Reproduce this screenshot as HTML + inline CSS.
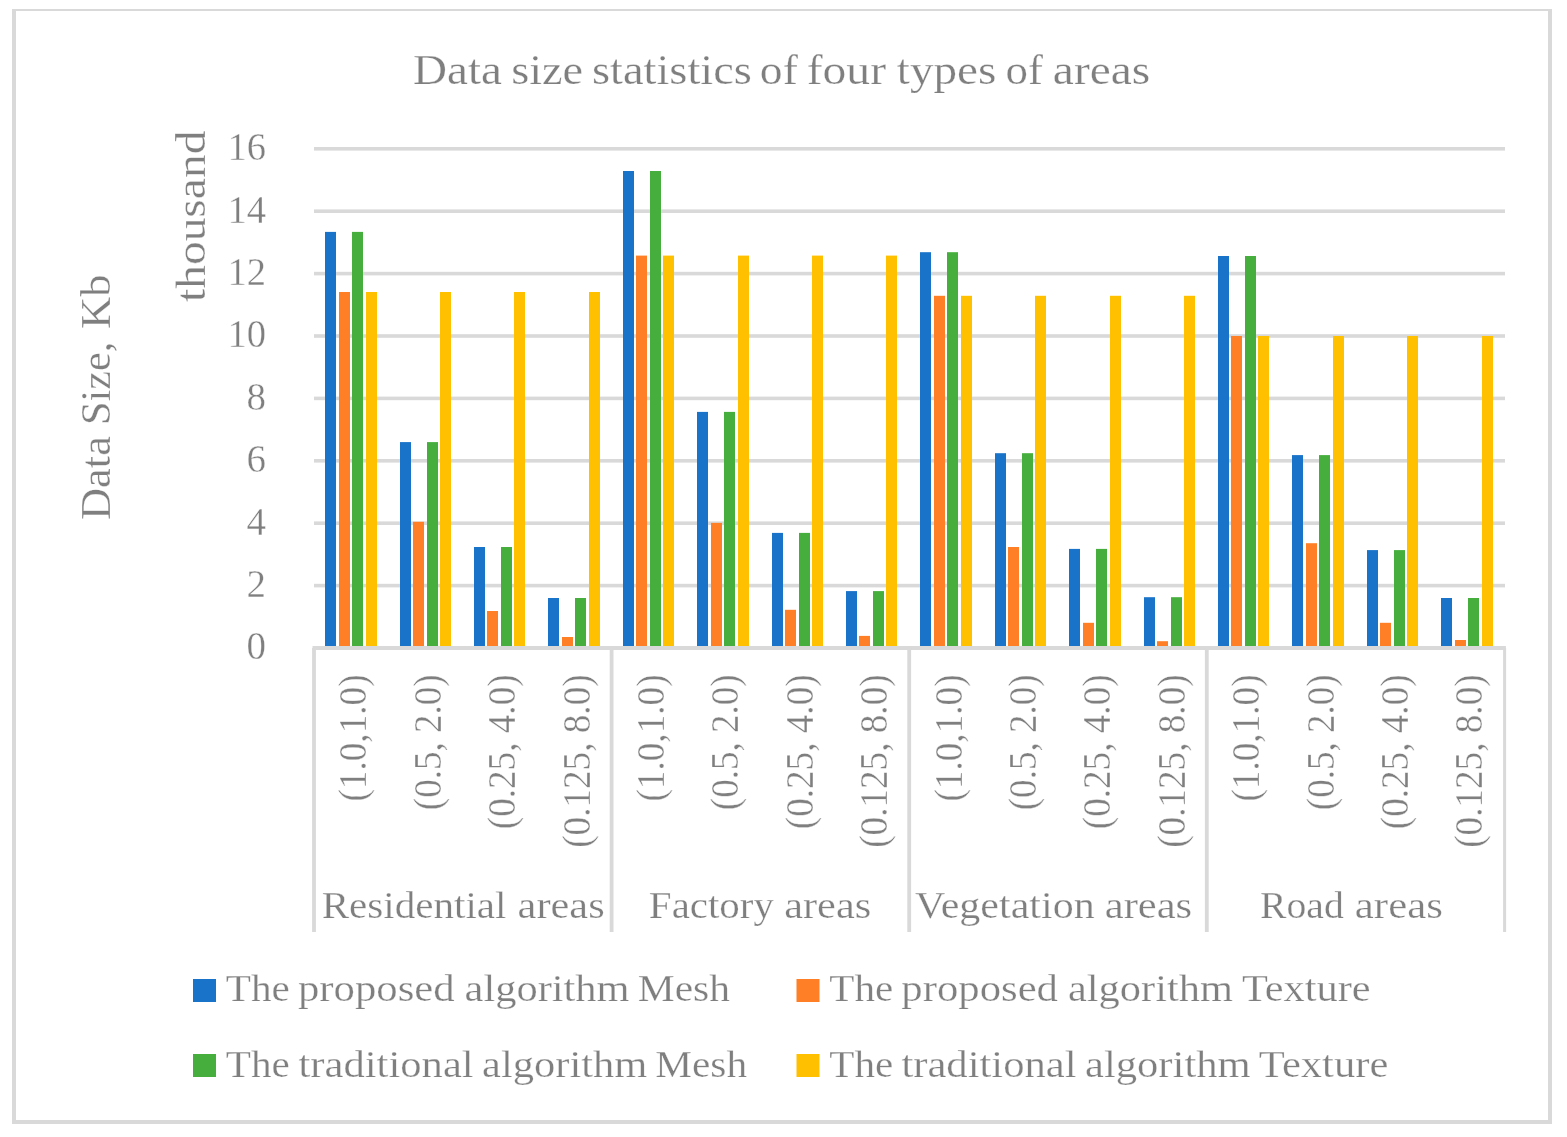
<!DOCTYPE html>
<html lang="en"><head><meta charset="utf-8"><title>Data size statistics of four types of areas</title>
<style>html,body{margin:0;padding:0;background:#fff;}body{width:1567px;height:1137px;overflow:hidden;}svg{display:block;}text{font-family:"Liberation Serif",serif;fill:#7f7f7f;}.thin{stroke:#fff;stroke-width:0.35px;paint-order:fill stroke;}.t2{stroke:#fff;stroke-width:0.25px;paint-order:fill stroke;}</style></head><body>
<svg width="1567" height="1137" viewBox="0 0 1567 1137">
<rect x="0" y="0" width="1567" height="1137" fill="#fff"/>
<g fill="#d9d9d9">
<rect x="12" y="9" width="1540" height="2"/>
<rect x="12" y="9" width="4" height="1115"/>
<rect x="1548" y="9" width="4" height="1115"/>
<rect x="12" y="1120" width="1540" height="4"/>
</g>
<g fill="#d9d9d9">
<rect x="314.0" y="583.80" width="1191.0" height="3.6"/>
<rect x="314.0" y="521.40" width="1191.0" height="3.6"/>
<rect x="314.0" y="459.00" width="1191.0" height="3.6"/>
<rect x="314.0" y="396.60" width="1191.0" height="3.6"/>
<rect x="314.0" y="334.20" width="1191.0" height="3.6"/>
<rect x="314.0" y="271.80" width="1191.0" height="3.6"/>
<rect x="314.0" y="209.40" width="1191.0" height="3.6"/>
<rect x="314.0" y="147.00" width="1191.0" height="3.6"/>
</g>
<rect x="325" y="231.9" width="11" height="416.1" fill="#1873C9"/>
<rect x="339" y="292.0" width="11" height="356.0" fill="#FF7F27"/>
<rect x="352" y="231.9" width="11" height="416.1" fill="#45AE3C"/>
<rect x="366" y="292.0" width="11" height="356.0" fill="#FFC000"/>
<rect x="400" y="442.1" width="11" height="205.9" fill="#1873C9"/>
<rect x="413" y="521.8" width="11" height="126.2" fill="#FF7F27"/>
<rect x="427" y="442.1" width="11" height="205.9" fill="#45AE3C"/>
<rect x="440" y="292.0" width="11" height="356.0" fill="#FFC000"/>
<rect x="474" y="547.0" width="11" height="101.0" fill="#1873C9"/>
<rect x="487" y="611.0" width="11" height="37.0" fill="#FF7F27"/>
<rect x="501" y="547.0" width="11" height="101.0" fill="#45AE3C"/>
<rect x="514" y="292.0" width="11" height="356.0" fill="#FFC000"/>
<rect x="548" y="598.0" width="11" height="50.0" fill="#1873C9"/>
<rect x="562" y="637.0" width="11" height="11.0" fill="#FF7F27"/>
<rect x="575" y="598.0" width="11" height="50.0" fill="#45AE3C"/>
<rect x="589" y="292.0" width="11" height="356.0" fill="#FFC000"/>
<rect x="623" y="171.0" width="11" height="477.0" fill="#1873C9"/>
<rect x="636" y="255.6" width="11" height="392.4" fill="#FF7F27"/>
<rect x="650" y="171.0" width="11" height="477.0" fill="#45AE3C"/>
<rect x="663" y="255.6" width="11" height="392.4" fill="#FFC000"/>
<rect x="697" y="411.9" width="11" height="236.1" fill="#1873C9"/>
<rect x="711" y="522.9" width="11" height="125.1" fill="#FF7F27"/>
<rect x="724" y="411.9" width="11" height="236.1" fill="#45AE3C"/>
<rect x="738" y="255.6" width="11" height="392.4" fill="#FFC000"/>
<rect x="772" y="532.9" width="11" height="115.1" fill="#1873C9"/>
<rect x="785" y="609.8" width="11" height="38.2" fill="#FF7F27"/>
<rect x="799" y="532.9" width="11" height="115.1" fill="#45AE3C"/>
<rect x="812" y="255.6" width="11" height="392.4" fill="#FFC000"/>
<rect x="846" y="591.1" width="11" height="56.9" fill="#1873C9"/>
<rect x="859" y="635.9" width="11" height="12.1" fill="#FF7F27"/>
<rect x="873" y="591.1" width="11" height="56.9" fill="#45AE3C"/>
<rect x="886" y="255.6" width="11" height="392.4" fill="#FFC000"/>
<rect x="920" y="252.2" width="11" height="395.8" fill="#1873C9"/>
<rect x="934" y="295.8" width="11" height="352.2" fill="#FF7F27"/>
<rect x="947" y="252.2" width="11" height="395.8" fill="#45AE3C"/>
<rect x="961" y="295.8" width="11" height="352.2" fill="#FFC000"/>
<rect x="995" y="453.2" width="11" height="194.8" fill="#1873C9"/>
<rect x="1008" y="547.0" width="11" height="101.0" fill="#FF7F27"/>
<rect x="1022" y="453.2" width="11" height="194.8" fill="#45AE3C"/>
<rect x="1035" y="295.8" width="11" height="352.2" fill="#FFC000"/>
<rect x="1069" y="548.9" width="11" height="99.1" fill="#1873C9"/>
<rect x="1083" y="622.8" width="11" height="25.2" fill="#FF7F27"/>
<rect x="1096" y="548.9" width="11" height="99.1" fill="#45AE3C"/>
<rect x="1110" y="295.8" width="11" height="352.2" fill="#FFC000"/>
<rect x="1144" y="597.2" width="11" height="50.8" fill="#1873C9"/>
<rect x="1157" y="641.2" width="11" height="6.8" fill="#FF7F27"/>
<rect x="1171" y="597.2" width="11" height="50.8" fill="#45AE3C"/>
<rect x="1184" y="295.8" width="11" height="352.2" fill="#FFC000"/>
<rect x="1218" y="256.0" width="11" height="392.0" fill="#1873C9"/>
<rect x="1231" y="336.0" width="11" height="312.0" fill="#FF7F27"/>
<rect x="1245" y="256.0" width="11" height="392.0" fill="#45AE3C"/>
<rect x="1258" y="336.0" width="11" height="312.0" fill="#FFC000"/>
<rect x="1292" y="455.1" width="11" height="192.9" fill="#1873C9"/>
<rect x="1306" y="543.2" width="11" height="104.8" fill="#FF7F27"/>
<rect x="1319" y="455.1" width="11" height="192.9" fill="#45AE3C"/>
<rect x="1333" y="336.0" width="11" height="312.0" fill="#FFC000"/>
<rect x="1367" y="550.1" width="11" height="97.9" fill="#1873C9"/>
<rect x="1380" y="622.8" width="11" height="25.2" fill="#FF7F27"/>
<rect x="1394" y="550.1" width="11" height="97.9" fill="#45AE3C"/>
<rect x="1407" y="336.0" width="11" height="312.0" fill="#FFC000"/>
<rect x="1441" y="598.0" width="11" height="50.0" fill="#1873C9"/>
<rect x="1455" y="640.0" width="11" height="8.0" fill="#FF7F27"/>
<rect x="1468" y="598.0" width="11" height="50.0" fill="#45AE3C"/>
<rect x="1482" y="336.0" width="11" height="312.0" fill="#FFC000"/>
<g fill="#d9d9d9">
<rect x="312.5" y="646" width="1193.4" height="4"/>
<rect x="312.1" y="648" width="3.8" height="284"/>
<rect x="609.7" y="648" width="3.8" height="284"/>
<rect x="907.3" y="648" width="3.8" height="284"/>
<rect x="1204.9" y="648" width="3.8" height="284"/>
<rect x="1503.1" y="648" width="3.0" height="284"/>
</g>
<text class="t2" y="84.0" font-size="43.00"><tspan x="413.09" textLength="88.83" lengthAdjust="spacingAndGlyphs">Data</tspan> <tspan x="511.17" textLength="71.89" lengthAdjust="spacingAndGlyphs">size</tspan> <tspan x="592.07" textLength="159.78" lengthAdjust="spacingAndGlyphs">statistics</tspan> <tspan x="759.88" textLength="37.98" lengthAdjust="spacingAndGlyphs">of</tspan> <tspan x="806.65" textLength="79.36" lengthAdjust="spacingAndGlyphs">four</tspan> <tspan x="896.87" textLength="99.47" lengthAdjust="spacingAndGlyphs">types</tspan> <tspan x="1005.55" textLength="37.45" lengthAdjust="spacingAndGlyphs">of</tspan> <tspan x="1052.86" textLength="97.32" lengthAdjust="spacingAndGlyphs">areas</tspan></text>
<text class="t2" y="918.4" font-size="38.00"><tspan x="321.70" textLength="184.76" lengthAdjust="spacingAndGlyphs">Residential</tspan> <tspan x="517.63" textLength="87.07" lengthAdjust="spacingAndGlyphs">areas</tspan></text>
<text class="t2" y="918.4" font-size="38.00"><tspan x="648.88" textLength="125.04" lengthAdjust="spacingAndGlyphs">Factory</tspan> <tspan x="784.18" textLength="87.06" lengthAdjust="spacingAndGlyphs">areas</tspan></text>
<text class="t2" y="918.4" font-size="38.00"><tspan x="914.99" textLength="179.72" lengthAdjust="spacingAndGlyphs">Vegetation</tspan> <tspan x="1104.85" textLength="87.31" lengthAdjust="spacingAndGlyphs">areas</tspan></text>
<text class="t2" y="918.4" font-size="38.00"><tspan x="1260.04" textLength="83.71" lengthAdjust="spacingAndGlyphs">Road</tspan> <tspan x="1354.86" textLength="87.98" lengthAdjust="spacingAndGlyphs">areas</tspan></text>
<text class="t2" y="1001.4" font-size="38.00"><tspan x="225.89" textLength="63.96" lengthAdjust="spacingAndGlyphs">The</tspan> <tspan x="298.03" textLength="156.57" lengthAdjust="spacingAndGlyphs">proposed</tspan> <tspan x="464.58" textLength="165.02" lengthAdjust="spacingAndGlyphs">algorithm</tspan> <tspan x="637.71" textLength="92.29" lengthAdjust="spacingAndGlyphs">Mesh</tspan></text>
<text class="t2" y="1001.4" font-size="38.00"><tspan x="829.30" textLength="63.95" lengthAdjust="spacingAndGlyphs">The</tspan> <tspan x="901.39" textLength="156.61" lengthAdjust="spacingAndGlyphs">proposed</tspan> <tspan x="1067.98" textLength="165.01" lengthAdjust="spacingAndGlyphs">algorithm</tspan> <tspan x="1241.91" textLength="128.71" lengthAdjust="spacingAndGlyphs">Texture</tspan></text>
<text class="t2" y="1076.5" font-size="38.00"><tspan x="225.89" textLength="63.96" lengthAdjust="spacingAndGlyphs">The</tspan> <tspan x="298.48" textLength="175.22" lengthAdjust="spacingAndGlyphs">traditional</tspan> <tspan x="482.10" textLength="165.20" lengthAdjust="spacingAndGlyphs">algorithm</tspan> <tspan x="655.27" textLength="91.84" lengthAdjust="spacingAndGlyphs">Mesh</tspan></text>
<text class="t2" y="1076.5" font-size="38.00"><tspan x="829.30" textLength="63.95" lengthAdjust="spacingAndGlyphs">The</tspan> <tspan x="901.40" textLength="175.23" lengthAdjust="spacingAndGlyphs">traditional</tspan> <tspan x="1084.99" textLength="165.71" lengthAdjust="spacingAndGlyphs">algorithm</tspan> <tspan x="1258.89" textLength="129.46" lengthAdjust="spacingAndGlyphs">Texture</tspan></text>
<text class="t2" y="110.3" font-size="43.00" transform="rotate(-90)"><tspan x="-520.03" textLength="83.86" lengthAdjust="spacingAndGlyphs">Data</tspan> <tspan x="-424.93" textLength="83.30" lengthAdjust="spacingAndGlyphs">Size,</tspan> <tspan x="-329.04" textLength="54.44" lengthAdjust="spacingAndGlyphs">Kb</tspan></text>
<text class="t2" y="204.8" font-size="43.00" transform="rotate(-90)"><tspan x="-302.02" textLength="171.41" lengthAdjust="spacingAndGlyphs">thousand</tspan></text>
<text class="thin" x="266.0" y="659.4" font-size="39.00" text-anchor="end">0</text>
<text class="thin" x="266.0" y="597.0" font-size="39.00" text-anchor="end">2</text>
<text class="thin" x="266.0" y="534.6" font-size="39.00" text-anchor="end">4</text>
<text class="thin" x="266.0" y="472.2" font-size="39.00" text-anchor="end">6</text>
<text class="thin" x="266.0" y="409.8" font-size="39.00" text-anchor="end">8</text>
<text class="thin" x="266.0" y="347.4" font-size="39.00" text-anchor="end" textLength="38.6" lengthAdjust="spacingAndGlyphs">10</text>
<text class="thin" x="266.0" y="285.0" font-size="39.00" text-anchor="end" textLength="38.6" lengthAdjust="spacingAndGlyphs">12</text>
<text class="thin" x="266.0" y="222.6" font-size="39.00" text-anchor="end" textLength="38.6" lengthAdjust="spacingAndGlyphs">14</text>
<text class="thin" x="266.0" y="160.2" font-size="39.00" text-anchor="end" textLength="38.6" lengthAdjust="spacingAndGlyphs">16</text>
<text class="thin" x="366.4" y="674.4" font-size="39.50" text-anchor="end" textLength="127.2" lengthAdjust="spacingAndGlyphs" transform="rotate(-90 366.4 674.4)">(1.0,1.0)</text>
<text class="thin" x="440.8" y="674.4" font-size="39.50" text-anchor="end" textLength="135.8" lengthAdjust="spacingAndGlyphs" transform="rotate(-90 440.8 674.4)">(0.5, 2.0)</text>
<text class="thin" x="515.2" y="674.4" font-size="39.50" text-anchor="end" textLength="154.8" lengthAdjust="spacingAndGlyphs" transform="rotate(-90 515.2 674.4)">(0.25, 4.0)</text>
<text class="thin" x="589.6" y="674.4" font-size="39.50" text-anchor="end" textLength="173.4" lengthAdjust="spacingAndGlyphs" transform="rotate(-90 589.6 674.4)">(0.125, 8.0)</text>
<text class="thin" x="664.0" y="674.4" font-size="39.50" text-anchor="end" textLength="127.2" lengthAdjust="spacingAndGlyphs" transform="rotate(-90 664.0 674.4)">(1.0,1.0)</text>
<text class="thin" x="738.4" y="674.4" font-size="39.50" text-anchor="end" textLength="135.8" lengthAdjust="spacingAndGlyphs" transform="rotate(-90 738.4 674.4)">(0.5, 2.0)</text>
<text class="thin" x="812.8" y="674.4" font-size="39.50" text-anchor="end" textLength="154.8" lengthAdjust="spacingAndGlyphs" transform="rotate(-90 812.8 674.4)">(0.25, 4.0)</text>
<text class="thin" x="887.2" y="674.4" font-size="39.50" text-anchor="end" textLength="173.4" lengthAdjust="spacingAndGlyphs" transform="rotate(-90 887.2 674.4)">(0.125, 8.0)</text>
<text class="thin" x="961.6" y="674.4" font-size="39.50" text-anchor="end" textLength="127.2" lengthAdjust="spacingAndGlyphs" transform="rotate(-90 961.6 674.4)">(1.0,1.0)</text>
<text class="thin" x="1036.0" y="674.4" font-size="39.50" text-anchor="end" textLength="135.8" lengthAdjust="spacingAndGlyphs" transform="rotate(-90 1036.0 674.4)">(0.5, 2.0)</text>
<text class="thin" x="1110.4" y="674.4" font-size="39.50" text-anchor="end" textLength="154.8" lengthAdjust="spacingAndGlyphs" transform="rotate(-90 1110.4 674.4)">(0.25, 4.0)</text>
<text class="thin" x="1184.8" y="674.4" font-size="39.50" text-anchor="end" textLength="173.4" lengthAdjust="spacingAndGlyphs" transform="rotate(-90 1184.8 674.4)">(0.125, 8.0)</text>
<text class="thin" x="1259.2" y="674.4" font-size="39.50" text-anchor="end" textLength="127.2" lengthAdjust="spacingAndGlyphs" transform="rotate(-90 1259.2 674.4)">(1.0,1.0)</text>
<text class="thin" x="1333.6" y="674.4" font-size="39.50" text-anchor="end" textLength="135.8" lengthAdjust="spacingAndGlyphs" transform="rotate(-90 1333.6 674.4)">(0.5, 2.0)</text>
<text class="thin" x="1408.0" y="674.4" font-size="39.50" text-anchor="end" textLength="154.8" lengthAdjust="spacingAndGlyphs" transform="rotate(-90 1408.0 674.4)">(0.25, 4.0)</text>
<text class="thin" x="1482.4" y="674.4" font-size="39.50" text-anchor="end" textLength="173.4" lengthAdjust="spacingAndGlyphs" transform="rotate(-90 1482.4 674.4)">(0.125, 8.0)</text>
<rect x="193.0" y="979" width="23" height="23" fill="#1873C9"/>
<rect x="796.5" y="979" width="23" height="23" fill="#FF7F27"/>
<rect x="193.0" y="1054" width="23" height="23" fill="#45AE3C"/>
<rect x="796.5" y="1054" width="23" height="23" fill="#FFC000"/>
</svg></body></html>
